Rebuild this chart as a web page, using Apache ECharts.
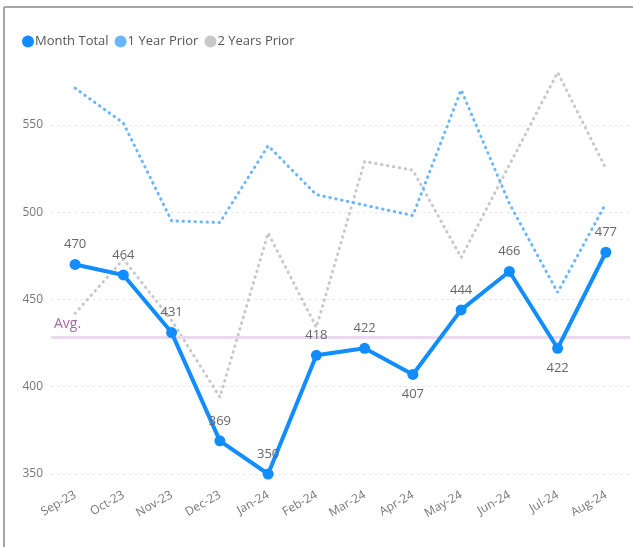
<!DOCTYPE html>
<html>
<head>
<meta charset="utf-8">
<script src="https://cdn.jsdelivr.net/npm/echarts@6/dist/echarts.min.js"></script>
<style>
  html, body { margin: 0; padding: 0; background: #fff; }
  #main { width: 633px; height: 547px; }
</style>
</head>
<body>
<div id="main"></div>
<script>
var myChart = echarts.init(document.getElementById('main'));

// x轴标签
var months = ['Sep-23', 'Oct-23', 'Nov-23', 'Dec-23', 'Jan-24', 'Feb-24',
  'Mar-24', 'Apr-24', 'May-24', 'Jun-24', 'Jul-24', 'Aug-24'];

// 数据
var monthTotal = [470, 464, 431, 369, 350, 418, 422, 407, 444, 466, 422, 477];
var oneYearPrior = [571, 551, 495, 494, 538, 510, 504, 498, 570, 505, 454, 505];
var twoYearsPrior = [442, 473, 438, 394, 488, 434, 529, 524, 474, 527, 580, 525];

// y轴刻度
var yTicks = [350, 400, 450, 500, 550];

// 标签在下方的点
var labelBelow = ['Apr-24', 'Jul-24'];

var fontFamily = '"Open Sans", "Noto Sans", sans-serif';

var totalData = monthTotal.map(function (v, i) {
  var item = { value: v };
  if (labelBelow.indexOf(months[i]) >= 0) {
    item.label = { position: 'bottom' };
  }
  return item;
});

var dotted = [0.5, 5.5];

var option = {
  animation: false,
  textStyle: { fontFamily: fontFamily },
  // 边框
  graphic: [
    { type: 'line', shape: { x1: 4, y1: 7, x2: 633, y2: 7 }, style: { stroke: '#a6a6a6', lineWidth: 2 } },
    { type: 'line', shape: { x1: 4, y1: 7, x2: 4, y2: 547 }, style: { stroke: '#a6a6a6', lineWidth: 2 } }
  ],
  legend: {
    left: 17,
    top: 30,
    itemWidth: 12,
    itemHeight: 12,
    itemGap: 6,
    icon: 'circle',
    textStyle: { color: '#555', fontSize: 13, padding: [0, 0, 0, -4] },
    data: ['Month Total', '1 Year Prior', '2 Years Prior']
  },
  grid: {
    left: 51,
    right: 3,
    top: 37.5,
    bottom: 73,
    containLabel: false
  },
  xAxis: {
    type: 'category',
    data: months,
    boundaryGap: true,
    axisLine: { show: false },
    axisTick: { show: false },
    axisLabel: {
      rotate: 30,
      margin: 20,
      color: '#777',
      fontSize: 12,
      fontFamily: fontFamily
    }
  },
  yAxis: {
    type: 'value',
    min: yTicks[0],
    max: 600,
    interval: yTicks[1] - yTicks[0],
    axisLine: { show: false },
    axisTick: { show: false },
    axisLabel: {
      color: '#777',
      fontSize: 12,
      margin: 8,
      showMaxLabel: false,
      fontFamily: fontFamily
    },
    splitLine: {
      showMaxLine: false,
      lineStyle: { color: '#e0e0e0', type: [2, 4], width: 1 }
    }
  },
  series: [
    {
      name: '2 Years Prior',
      type: 'line',
      data: twoYearsPrior,
      symbol: 'none',
      color: '#c8c8c8',
      lineStyle: { width: 3, type: dotted, cap: 'round', color: '#c8c8c8' },
      z: 2
    },
    {
      name: '1 Year Prior',
      type: 'line',
      data: oneYearPrior,
      symbol: 'none',
      color: '#6bb7ff',
      lineStyle: { width: 3, type: dotted, cap: 'round', color: '#6bb7ff' },
      z: 3
    },
    {
      name: 'Month Total',
      type: 'line',
      data: totalData,
      symbol: 'circle',
      symbolSize: 11,
      color: '#118dff',
      lineStyle: { width: 4, color: '#118dff' },
      itemStyle: { color: '#118dff' },
      label: {
        show: true,
        position: 'top',
        distance: 8,
        color: '#666',
        fontSize: 13,
        fontFamily: fontFamily
      },
      markLine: {
        silent: true,
        symbol: 'none',
        lineStyle: { color: '#ead9ef', width: 3, type: 'solid' },
        label: {
          show: true,
          position: 'insideStartTop',
          formatter: 'Avg.',
          color: '#a66ba6',
          fontSize: 14,
          distance: [3, 6],
          fontFamily: fontFamily
        },
        data: [{ type: 'average', name: 'Avg.' }]
      },
      z: 5
    }
  ]
};

myChart.setOption(option);
</script>
</body>
</html>
